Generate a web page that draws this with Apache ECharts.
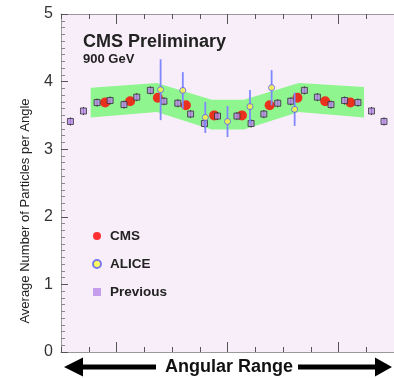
<!DOCTYPE html>
<html><head><meta charset="utf-8">
<script src="https://cdn.jsdelivr.net/npm/echarts@6/dist/echarts.min.js"></script>
<style>html,body{margin:0;padding:0;background:#fff}#c{width:394px;height:378px}</style>
</head><body><div id="c"></div>
<script>
// ---- data ----
const bandX    = [1.07, 3.45, 5.43, 6.59, 8.57, 10.92];
const bandHigh = [3.91, 3.98, 3.73, 3.73, 3.98, 3.92];
const bandLow  = [3.47, 3.55, 3.29, 3.29, 3.55, 3.47];

const cmsX = [1.59, 2.49, 3.49, 4.50, 5.52, 6.52, 7.52, 8.52, 9.52, 10.43];
const cmsY = [3.69, 3.71, 3.76, 3.65, 3.50, 3.50, 3.65, 3.76, 3.71, 3.69];

const aliceX   = [3.59, 4.39, 5.20, 6.00, 6.81, 7.59, 8.42];
const aliceY   = [3.88, 3.87, 3.47, 3.41, 3.63, 3.91, 3.59];
const aliceErr = [0.45, 0.27, 0.23, 0.23, 0.245, 0.26, 0.245];

const prevX = [0.34, 0.81, 1.30, 1.77, 2.27, 2.73, 3.22, 3.71, 4.21, 4.67, 5.17, 5.64,
               6.34, 6.85, 7.31, 7.81, 8.28, 8.77, 9.24, 9.73, 10.22, 10.70, 11.19, 11.64];
const prevY = [3.41, 3.565, 3.69, 3.72, 3.66, 3.77, 3.87, 3.71, 3.68, 3.52, 3.38, 3.49,
               3.49, 3.38, 3.52, 3.68, 3.71, 3.87, 3.77, 3.66, 3.72, 3.69, 3.565, 3.41];
const prevErr = [0.06, 0.06, 0.06, 0.06, 0.06, 0.06, 0.06, 0.06, 0.06, 0.06, 0.06, 0.06,
                 0.06, 0.06, 0.06, 0.06, 0.06, 0.06, 0.06, 0.06, 0.06, 0.06, 0.06, 0.06];

const xMinorTicks = [0,1,2,3,4,5,6,7,8,9,10,11,12];
const xMajorTicks = [2, 6, 10];
const yTickLabels = ['0','1','2','3','4','5'];

const legendNames = ['CMS', 'ALICE', 'Previous'];
const titleText = 'CMS Preliminary';
const subText = '900 GeV';
const yName = 'Average Number of Particles per Angle';
const xName = 'Angular Range';

// ---- build ----
const FONT = '"Liberation Sans", Arial, sans-serif';
const zip2 = (a, b) => a.map((v, i) => [v, b[i]]);
const zip3 = (a, b, c) => a.map((v, i) => [v, b[i], c[i]]);

function errRender(color, width) {
  return function (params, api) {
    const x = api.value(0), y = api.value(1), e = api.value(2);
    const p1 = api.coord([x, y - e]);
    const p2 = api.coord([x, y + e]);
    return {type: 'line', shape: {x1: p1[0], y1: p1[1], x2: p2[0], y2: p2[1]},
            style: {stroke: color, lineWidth: width}};
  };
}

function bandRender(params, api) {
  if (params.dataIndex !== 0) return null;
  const pts = [];
  for (let i = 0; i < bandX.length; i++) pts.push(api.coord([bandX[i], bandHigh[i]]));
  for (let i = bandX.length - 1; i >= 0; i--) pts.push(api.coord([bandX[i], bandLow[i]]));
  return {type: 'polygon', shape: {points: pts}, style: {fill: '#8ff58f', stroke: null}};
}

function xAx(pos, ticks, len, showLine) {
  return {
    type: 'value', min: 0, max: 12, position: pos,
    axisLine: {show: showLine, lineStyle: {color: '#999', width: 1}},
    axisTick: {show: true, inside: true, length: len, customValues: ticks,
               lineStyle: {color: '#555', width: 1}},
    axisLabel: {show: false}, splitLine: {show: false}
  };
}

const chart = echarts.init(document.getElementById('c'));
chart.setOption({
  animation: false,
  backgroundColor: '#ffffff',
  grid: {left: 61, top: 14, width: 344, height: 338, show: true,
         backgroundColor: '#f8eef9', borderWidth: 0},
  xAxis: [
    xAx('bottom', xMinorTicks, 5, true),
    xAx('bottom', xMajorTicks, 10, false),
    xAx('top', xMinorTicks, 5, true),
    xAx('top', xMajorTicks, 10, false)
  ],
  yAxis: {
    type: 'value', min: 0, max: 5, interval: 1,
    axisLine: {show: true, lineStyle: {color: '#999'}},
    axisTick: {show: true, inside: true, length: 7, lineStyle: {color: '#555'}},
    minorTick: {show: true, splitNumber: 10, length: 4, lineStyle: {color: '#888'}},
    axisLabel: {fontSize: 16, color: '#333', margin: 8, fontFamily: FONT,
                formatter: v => yTickLabels[Math.round(v)]},
    splitLine: {show: false}
  },
  legend: {
    orient: 'vertical', left: 87, top: 223, itemWidth: 8, itemHeight: 8, itemGap: 12,
    selectedMode: false,
    textStyle: {fontSize: 13.5, fontWeight: 'bold', color: '#222', fontFamily: FONT,
                lineHeight: 16, padding: [0, 0, 0, 4]},
    data: [
      {name: legendNames[0], icon: 'circle'},
      {name: legendNames[1], icon: 'circle'},
      {name: legendNames[2], icon: 'rect', itemStyle: {borderWidth: 0}}
    ]
  },
  series: [
    {type: 'custom', data: zip3(bandX, bandLow, bandHigh), encode: {x: 0, y: [1, 2]},
     renderItem: bandRender, silent: true, z: 1},
    {type: 'scatter', name: legendNames[0], data: zip2(cmsX, cmsY), symbol: 'circle', symbolSize: 10,
     itemStyle: {color: '#ff0000'}, z: 3},
    {type: 'custom', data: zip3(prevX, prevY, prevErr), encode: {x: 0, y: 1},
     renderItem: errRender('#333', 1), z: 4},
    {type: 'scatter', name: legendNames[2], data: zip2(prevX, prevY), symbol: 'rect', symbolSize: 6,
     itemStyle: {color: '#b888ea', borderColor: '#333', borderWidth: 1}, z: 4},
    {type: 'custom', data: zip3(aliceX, aliceY, aliceErr), encode: {x: 0, y: 1},
     renderItem: errRender('#8088ff', 1.8), z: 5},
    {type: 'scatter', name: legendNames[1], data: zip2(aliceX, aliceY), symbol: 'circle', symbolSize: 6,
     itemStyle: {color: '#ffff33', borderColor: '#5a5aff', borderWidth: 1}, z: 6}
  ],
  graphic: [
    {type: 'text', left: 83, top: 33, z: 10,
     style: {text: titleText, font: 'bold 18px ' + FONT, fill: '#222'}},
    {type: 'text', left: 83, top: 53, z: 10,
     style: {text: subText, font: 'bold 13px ' + FONT, fill: '#222'}},
    {type: 'text', x: 25, y: 211, rotation: Math.PI / 2, z: 10,
     style: {text: yName, font: '13px ' + FONT, fill: '#222', align: 'center', verticalAlign: 'middle'}},
    {type: 'text', x: 229, y: 367, z: 10,
     style: {text: xName, font: 'bold 18px ' + FONT, fill: '#111', align: 'center', verticalAlign: 'middle'}},
    {type: 'polygon', z: 10, shape: {points: [[64, 367], [83, 357.5], [83, 364.5], [156, 364.5], [156, 369.5], [83, 369.5], [83, 376.5]]},
     style: {fill: '#000'}},
    {type: 'polygon', z: 10, shape: {points: [[392, 367], [375, 357.5], [375, 364.5], [298, 364.5], [298, 369.5], [375, 369.5], [375, 376.5]]},
     style: {fill: '#000'}}
  ]
});
</script>
</body></html>
